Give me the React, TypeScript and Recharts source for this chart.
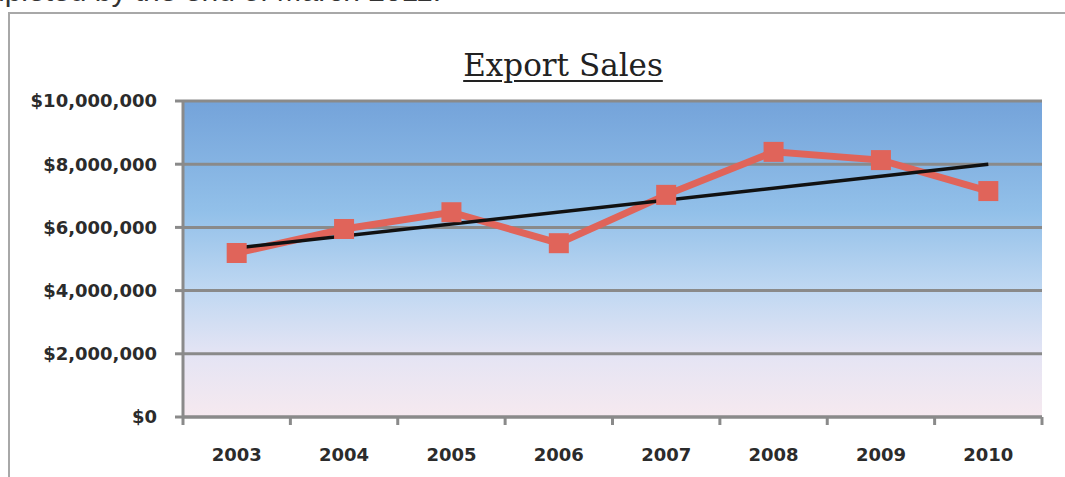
import { CartesianGrid, Line, LineChart, ReferenceLine, XAxis, YAxis } from 'recharts';

const years = ['2003', '2004', '2005', '2006', '2007', '2008', '2009', '2010'];
const exportSales = [5190000, 5950000, 6480000, 5500000, 7030000, 8390000, 8130000, 7150000];
const yTicks = [0, 2000000, 4000000, 6000000, 8000000, 10000000];
// trendline ends
const trendStart = 5350000;
const trendEnd = 8000000;

const data = years.map((year, i) => ({ year, sales: exportSales[i] }));

const W = 1065;
const H = 477;
const PLOT_LEFT = 183;
const PLOT_RIGHT = 1042;
const PLOT_TOP = 101;
const PLOT_BOTTOM = 417;
const BAND = (PLOT_RIGHT - PLOT_LEFT) / years.length;

const RED = '#e0645a';
const AXIS = '#8a8a8a';
const TEXT = '#2b2b2b';

const formatMoney = (v: number) => `$${v.toLocaleString('en-US')}`;

function YearTick(props: any) {
  const { x, payload, index } = props;
  const half = BAND / 2;
  return (
    <g>
      <line x1={x - half} x2={x - half} y1={PLOT_BOTTOM} y2={PLOT_BOTTOM + 8} stroke={AXIS} strokeWidth={3} />
      {index === years.length - 1 && (
        <line x1={x + half} x2={x + half} y1={PLOT_BOTTOM} y2={PLOT_BOTTOM + 8} stroke={AXIS} strokeWidth={3} />
      )}
      <text
        x={x}
        y={PLOT_BOTTOM + 44}
        textAnchor="middle"
        fill={TEXT}
        fontFamily="DejaVu Sans"
        fontWeight="bold"
        fontSize={18}
      >
        {payload.value}
      </text>
    </g>
  );
}

function SquareDot(props: any) {
  const { cx, cy, index } = props;
  return <rect key={`sq-${index}`} x={cx - 10} y={cy - 10} width={20} height={20} fill={RED} />;
}

export default function App() {
  return (
    <div style={{ position: 'absolute', left: 0, top: 0, width: W, height: H, overflow: 'hidden', background: '#fff' }}>
      <div
        style={{
          position: 'absolute',
          left: -52,
          top: -24,
          fontFamily: '"Liberation Sans", Arial, sans-serif',
          fontSize: 30,
          lineHeight: '30px',
          color: '#333',
          whiteSpace: 'nowrap',
        }}
      >
        completed by the end of March 2011.
      </div>
      <div
        style={{
          position: 'absolute',
          left: 8,
          top: 12,
          width: W + 20,
          height: H + 20,
          borderTop: '2px solid #a8a8a8',
          borderLeft: '2px solid #a8a8a8',
        }}
      />
      <div
        style={{
          position: 'absolute',
          left: 263,
          width: 600,
          top: 50,
          textAlign: 'center',
          fontFamily: '"DejaVu Serif", serif',
          fontSize: 31,
          lineHeight: '31px',
          color: '#222',
          textDecoration: 'underline',
          textDecorationThickness: 2,
          textUnderlineOffset: 4,
        }}
      >
        Export Sales
      </div>
      <div style={{ position: 'absolute', left: 0, top: 0 }}>
        <LineChart
          width={W}
          height={H}
          data={data}
          margin={{ top: PLOT_TOP, right: W - PLOT_RIGHT, bottom: 30, left: 0 }}
        >
          <defs>
            <linearGradient id="plotBg" x1="0" y1="0" x2="0" y2="1">
              <stop offset="0%" stopColor="#74a3da" />
              <stop offset="35%" stopColor="#92c0e9" />
              <stop offset="60%" stopColor="#c0d8f2" />
              <stop offset="80%" stopColor="#e4e4f4" />
              <stop offset="100%" stopColor="#f6e9ef" />
            </linearGradient>
          </defs>
          <CartesianGrid vertical={false} stroke={AXIS} strokeWidth={3} fill="url(#plotBg)" fillOpacity={1} />
          <XAxis
            dataKey="year"
            height={H - PLOT_BOTTOM - 30}
            padding={{ left: BAND / 2, right: BAND / 2 }}
            axisLine={{ stroke: AXIS, strokeWidth: 3 }}
            tickLine={false}
            tick={<YearTick />}
            interval={0}
          />
          <YAxis
            width={PLOT_LEFT}
            domain={[0, 10000000]}
            ticks={yTicks}
            tickFormatter={formatMoney}
            axisLine={{ stroke: AXIS, strokeWidth: 3 }}
            tickLine={{ stroke: AXIS, strokeWidth: 3 }}
            tickSize={8}
            tickMargin={18}
            tick={{ fill: TEXT, fontFamily: 'DejaVu Sans', fontWeight: 'bold', fontSize: 18 }}
          />
          <Line
            type="linear"
            dataKey="sales"
            stroke={RED}
            strokeWidth={7}
            dot={SquareDot}
            activeDot={false}
            isAnimationActive={false}
          />
          <ReferenceLine
            segment={[
              { x: years[0], y: trendStart },
              { x: years[years.length - 1], y: trendEnd },
            ]}
            stroke="#111"
            strokeWidth={3.5}
          />
        </LineChart>
      </div>
    </div>
  );
}
